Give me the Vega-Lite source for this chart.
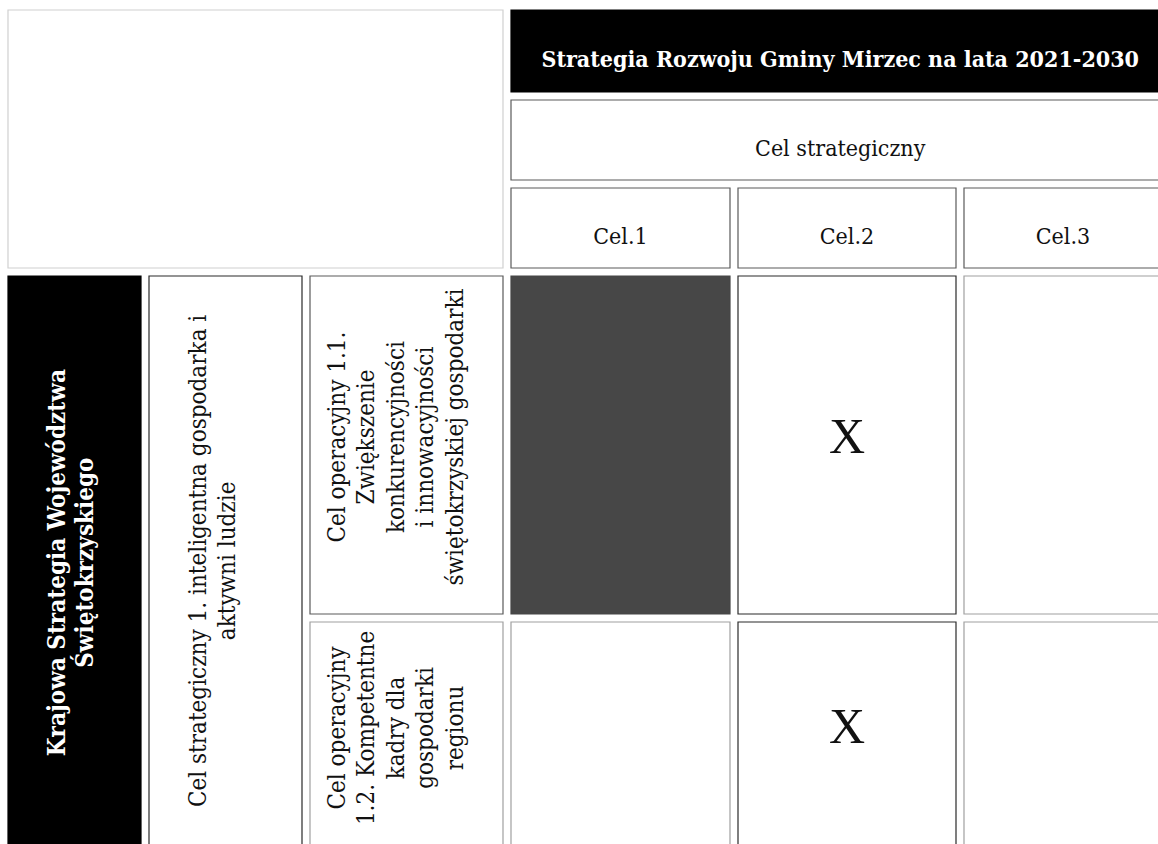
{
  "$schema": "https://vega.github.io/schema/vega-lite/v6.json",
  "width": 1158,
  "height": 844,
  "padding": 0,
  "autosize": "none",
  "background": "white",
  "config": {"view": {"stroke": null}},
  "datasets": {
    "cells": [
      {"id": "topleft", "c0": 0, "c1": 3, "r0": 0, "r1": 3, "kind": "ghost"},
      {"id": "header", "c0": 3, "c1": 6, "r0": 0, "r1": 1, "kind": "black"},
      {"id": "celstrat", "c0": 3, "c1": 6, "r0": 1, "r1": 2, "kind": "box"},
      {"id": "cel1", "c0": 3, "c1": 4, "r0": 2, "r1": 3, "kind": "box"},
      {"id": "cel2", "c0": 4, "c1": 5, "r0": 2, "r1": 3, "kind": "box"},
      {"id": "cel3", "c0": 5, "c1": 6, "r0": 2, "r1": 3, "kind": "box"},
      {"id": "krajowa", "c0": 0, "c1": 1, "r0": 3, "r1": 5, "kind": "black"},
      {"id": "strat1", "c0": 1, "c1": 2, "r0": 3, "r1": 5, "kind": "strong"},
      {"id": "op11", "c0": 2, "c1": 3, "r0": 3, "r1": 4, "kind": "box"},
      {"id": "op12", "c0": 2, "c1": 3, "r0": 4, "r1": 5, "kind": "faint"},
      {"id": "r1c1", "c0": 3, "c1": 4, "r0": 3, "r1": 4, "kind": "shaded"},
      {"id": "r1c2", "c0": 4, "c1": 5, "r0": 3, "r1": 4, "kind": "strong"},
      {"id": "r1c3", "c0": 5, "c1": 6, "r0": 3, "r1": 4, "kind": "faint"},
      {"id": "r2c1", "c0": 3, "c1": 4, "r0": 4, "r1": 5, "kind": "faint"},
      {"id": "r2c2", "c0": 4, "c1": 5, "r0": 4, "r1": 5, "kind": "strong"},
      {"id": "r2c3", "c0": 5, "c1": 6, "r0": 4, "r1": 5, "kind": "faint"}
    ],
    "labels": [
      {"text": "Strategia Rozwoju Gminy Mirzec na lata 2021-2030", "cx": 4.47, "cy": 0.6, "style": "title"},
      {"text": "Cel strategiczny", "cx": 4.47, "cy": 1.6, "style": "head"},
      {"text": "Cel.1", "cx": 3.5, "cy": 2.6, "style": "head"},
      {"text": "Cel.2", "cx": 4.5, "cy": 2.6, "style": "head"},
      {"text": "Cel.3", "cx": 5.5, "cy": 2.6, "style": "head"},
      {"text": "Krajowa Strategia Województwa\nŚwiętokrzyskiego", "cx": 0.38, "cy": 3.84, "style": "side"},
      {"text": "Cel strategiczny 1. inteligentna gospodarka i\naktywni ludzie", "cx": 1.335, "cy": 3.835, "style": "vert"},
      {"text": "Cel operacyjny 1.1.\nZwiększenie\nkonkurencyjności\ni innowacyjności\nświętokrzyskiej gospodarki", "cx": 2.159, "cy": 3.477, "style": "vert"},
      {"text": "Cel operacyjny\n1.2. Kompetentne\nkadry dla\ngospodarki\nregionu", "cx": 2.159, "cy": 4.47, "style": "vert"},
      {"text": "X", "cx": 4.5, "cy": 3.48, "style": "mark"},
      {"text": "X", "cx": 4.5, "cy": 4.47, "style": "mark"}
    ]
  },
  "layer": [
    {
      "data": {"name": "cells"},
      "mark": {"type": "rect", "xOffset": 4, "x2Offset": -4, "yOffset": 4, "y2Offset": -4, "strokeWidth": 1.2},
      "encoding": {
        "x": {"field": "c0", "type": "quantitative", "axis": null,
              "scale": {"type": "linear", "domain": [0, 1, 2, 3, 4, 5, 6], "range": [4, 145, 306, 507, 734, 960, 1166], "zero": false, "nice": false}},
        "x2": {"field": "c1"},
        "y": {"field": "r0", "type": "quantitative", "axis": null,
              "scale": {"type": "linear", "domain": [0, 1, 2, 3, 4, 5], "range": [6, 96, 184, 272, 618, 852], "zero": false, "nice": false}},
        "y2": {"field": "r1"},
        "fill": {"field": "kind", "type": "nominal", "legend": null,
                 "scale": {"domain": ["ghost", "black", "box", "strong", "faint", "shaded"], "range": ["#ffffff", "#000000", "#ffffff", "#ffffff", "#ffffff", "#474747"]}},
        "stroke": {"field": "kind", "type": "nominal", "legend": null,
                   "scale": {"domain": ["ghost", "black", "box", "strong", "faint", "shaded"], "range": ["#d0d0d0", "#000000", "#5a5a5a", "#2a2a2a", "#a0a0a0", "#474747"]}},
        "strokeDash": {"field": "kind", "type": "nominal", "legend": null,
                       "scale": {"domain": ["ghost", "black", "box", "strong", "faint", "shaded"], "range": [[2, 4], [1, 0], [1, 0], [1, 0], [3, 2], [1, 0]]}}
      }
    },
    {
      "data": {"name": "labels"},
      "transform": [{"filter": "datum.style == 'title'"}],
      "mark": {"type": "text", "font": "DejaVu Serif Condensed", "fontWeight": "bold", "fontSize": 23, "color": "#ffffff", "align": "center", "baseline": "middle"},
      "encoding": {
        "x": {"field": "cx", "type": "quantitative", "axis": null},
        "y": {"field": "cy", "type": "quantitative", "axis": null},
        "text": {"field": "text", "type": "nominal"}
      }
    },
    {
      "data": {"name": "labels"},
      "transform": [{"filter": "datum.style == 'head'"}],
      "mark": {"type": "text", "font": "DejaVu Serif Condensed", "fontSize": 23, "color": "#111111", "align": "center", "baseline": "middle"},
      "encoding": {
        "x": {"field": "cx", "type": "quantitative", "axis": null},
        "y": {"field": "cy", "type": "quantitative", "axis": null},
        "text": {"field": "text", "type": "nominal"}
      }
    },
    {
      "data": {"name": "labels"},
      "transform": [{"filter": "datum.style == 'side'"}],
      "mark": {"type": "text", "font": "DejaVu Serif Condensed", "fontWeight": "bold", "fontSize": 24, "lineHeight": 28, "lineBreak": "\n", "angle": 270, "color": "#ffffff", "align": "center", "baseline": "middle"},
      "encoding": {
        "x": {"field": "cx", "type": "quantitative", "axis": null},
        "y": {"field": "cy", "type": "quantitative", "axis": null},
        "text": {"field": "text", "type": "nominal"}
      }
    },
    {
      "data": {"name": "labels"},
      "transform": [{"filter": "datum.style == 'vert'"}],
      "mark": {"type": "text", "font": "DejaVu Serif Condensed", "fontSize": 24, "lineHeight": 29.5, "lineBreak": "\n", "angle": 270, "color": "#111111", "align": "center", "baseline": "middle"},
      "encoding": {
        "x": {"field": "cx", "type": "quantitative", "axis": null},
        "y": {"field": "cy", "type": "quantitative", "axis": null},
        "text": {"field": "text", "type": "nominal"}
      }
    },
    {
      "data": {"name": "labels"},
      "transform": [{"filter": "datum.style == 'mark'"}],
      "mark": {"type": "text", "font": "Liberation Serif", "fontSize": 50, "color": "#111111", "align": "center", "baseline": "middle"},
      "encoding": {
        "x": {"field": "cx", "type": "quantitative", "axis": null},
        "y": {"field": "cy", "type": "quantitative", "axis": null},
        "text": {"field": "text", "type": "nominal"}
      }
    }
  ]
}
